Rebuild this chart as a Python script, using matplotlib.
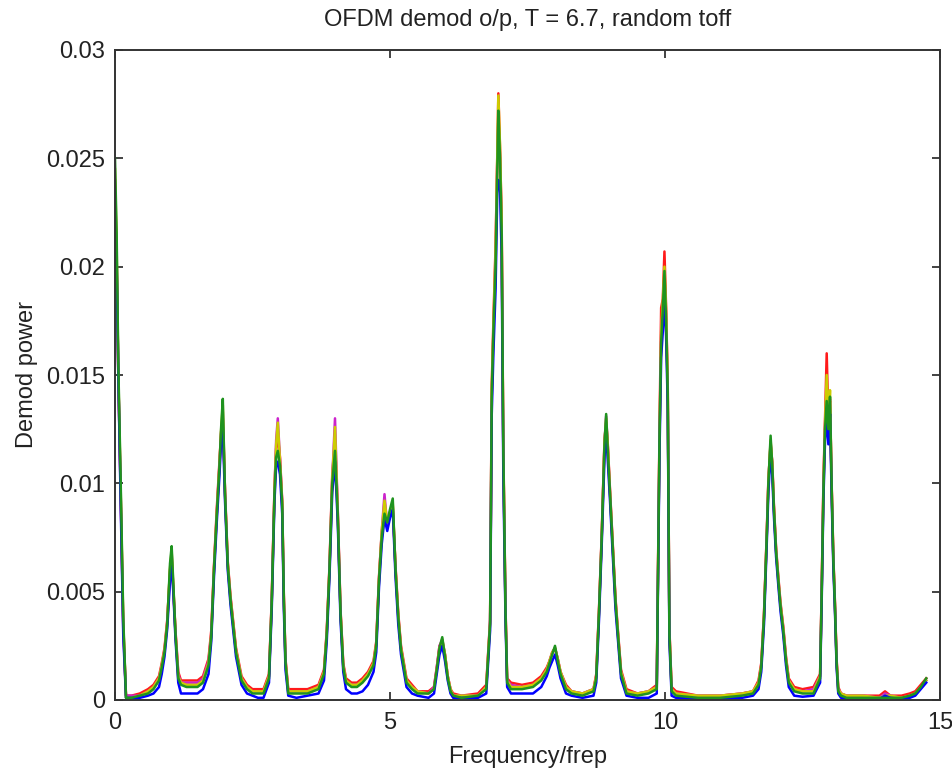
import numpy as np
import matplotlib
matplotlib.use("Agg")
import matplotlib.pyplot as plt
from matplotlib.ticker import FixedLocator, FuncFormatter

plt.rcParams['font.family'] = ['Liberation Sans', 'DejaVu Sans']

# frequency grid (units of frep), shared by all traces
freq = [
    0.00, 0.03, 0.06, 0.10, 0.15, 0.20, 0.30, 0.45, 0.60, 0.70,
    0.80, 0.85, 0.90, 0.95, 1.00, 1.03, 1.06, 1.10, 1.15, 1.20,
    1.30, 1.40, 1.50, 1.60, 1.70, 1.75, 1.80, 1.85, 1.90, 1.93,
    1.96, 2.00, 2.05, 2.10, 2.15, 2.20, 2.30, 2.40, 2.50, 2.60,
    2.70, 2.80, 2.85, 2.90, 2.93, 2.96, 3.00, 3.04, 3.07, 3.10,
    3.15, 3.30, 3.50, 3.70, 3.80, 3.85, 3.90, 3.95, 4.00, 4.05,
    4.10, 4.15, 4.20, 4.30, 4.40, 4.50, 4.60, 4.70, 4.75, 4.80,
    4.85, 4.90, 4.95, 5.00, 5.05, 5.10, 5.15, 5.20, 5.30, 5.40,
    5.50, 5.70, 5.80, 5.85, 5.90, 5.95, 6.00, 6.05, 6.10, 6.15,
    6.30, 6.60, 6.75, 6.82, 6.85, 6.88, 6.92, 6.95, 6.97, 7.00,
    7.03, 7.06, 7.10, 7.13, 7.20, 7.40, 7.60, 7.75, 7.85, 7.90,
    7.95, 8.00, 8.05, 8.10, 8.20, 8.30, 8.50, 8.70, 8.75, 8.80,
    8.85, 8.90, 8.93, 8.96, 9.00, 9.05, 9.10, 9.15, 9.20, 9.30,
    9.50, 9.70, 9.85, 9.90, 9.93, 9.96, 9.99, 10.02, 10.05, 10.08,
    10.12, 10.20, 10.60, 11.00, 11.40, 11.60, 11.70, 11.75, 11.80, 11.85,
    11.88, 11.92, 11.95, 11.98, 12.02, 12.06, 12.10, 12.15, 12.20, 12.25,
    12.35, 12.50, 12.70, 12.82, 12.85, 12.88, 12.91, 12.94, 12.97, 13.00,
    13.03, 13.06, 13.09, 13.12, 13.15, 13.20, 13.30, 13.60, 13.90, 14.00,
    14.10, 14.30, 14.45, 14.55, 14.65, 14.75,
]

# demod power per run, in units of 1e-4
run_blue = [
    206, 200, 150, 95, 30, 1, 1, 1, 2, 3,
    6, 12, 20, 33, 55, 62, 50, 28, 8, 3,
    3, 3, 3, 5, 12, 27, 57, 82, 104, 120,
    126, 92, 60, 44, 32, 20, 7, 3, 2, 1,
    1, 8, 42, 92, 108, 110, 104, 86, 42, 14,
    2, 1, 2, 3, 9, 27, 57, 96, 110, 82,
    37, 13, 5, 3, 3, 4, 7, 13, 22, 52,
    72, 84, 78, 84, 88, 57, 35, 21, 6, 3,
    2, 1, 3, 12, 21, 25, 18, 9, 3, 1,
    1, 1, 3, 32, 132, 160, 190, 234, 240, 236,
    205, 105, 37, 6, 3, 3, 3, 6, 11, 15,
    18, 21, 16, 10, 3, 2, 1, 2, 8, 37,
    72, 112, 124, 110, 92, 67, 42, 26, 10, 2,
    1, 1, 3, 114, 158, 170, 185, 168, 135, 27,
    2, 1, 0.5, 0.5, 1, 2, 5, 13, 35, 72,
    96, 115, 104, 85, 66, 53, 41, 30, 16, 6,
    2, 1.5, 2, 8, 47, 92, 120, 130, 118, 132,
    94, 62, 41, 15, 3, 1, 0.5, 0.5, 0.5, 2,
    1, 0.5, 1, 2, 5, 8,
]
run_red = [
    240, 205, 150, 100, 35, 2, 2, 3, 5, 7,
    11, 17, 24, 37, 60, 66, 52, 32, 13, 9,
    9, 9, 9, 11, 19, 32, 62, 88, 110, 124,
    130, 97, 64, 48, 36, 24, 11, 7, 5, 5,
    5, 12, 47, 98, 116, 122, 112, 92, 48, 19,
    5, 5, 5, 7, 14, 32, 62, 104, 120, 88,
    42, 17, 10, 8, 8, 10, 13, 18, 27, 57,
    77, 88, 80, 86, 90, 62, 40, 25, 10, 7,
    4, 4, 6, 15, 25, 27, 21, 11, 5, 3,
    2, 3, 7, 37, 145, 175, 210, 250, 280, 255,
    222, 118, 43, 10, 8, 7, 8, 11, 15, 18,
    22, 24, 19, 13, 7, 4, 3, 5, 12, 42,
    77, 120, 128, 118, 97, 72, 47, 30, 14, 5,
    3, 4, 7, 125, 181, 185, 207, 181, 145, 33,
    6, 4, 2, 2, 3, 4, 9, 17, 40, 77,
    102, 118, 110, 90, 70, 57, 45, 34, 20, 10,
    6, 5, 6, 12, 53, 100, 130, 160, 130, 138,
    100, 67, 45, 19, 6, 3, 2, 2, 2, 4,
    2, 2, 3, 4, 7, 10,
]
run_magenta = [
    230, 205, 150, 100, 33, 2, 2, 2, 4, 6,
    10, 16, 23, 36, 58, 68, 51, 31, 12, 8,
    8, 8, 8, 10, 18, 30, 61, 86, 109, 123,
    133, 96, 63, 47, 35, 23, 10, 6, 4, 4,
    4, 11, 46, 97, 120, 130, 110, 91, 47, 18,
    4, 4, 4, 6, 13, 31, 61, 102, 130, 87,
    41, 16, 9, 7, 7, 9, 12, 17, 26, 56,
    78, 95, 80, 85, 89, 61, 39, 24, 9, 6,
    4, 3, 6, 15, 25, 28, 21, 11, 5, 2,
    2, 2, 6, 36, 141, 170, 205, 248, 268, 252,
    218, 114, 42, 9, 7, 6, 7, 10, 14, 18,
    22, 24, 19, 13, 6, 4, 3, 5, 11, 41,
    76, 119, 131, 117, 96, 71, 46, 29, 13, 4,
    3, 4, 6, 122, 168, 182, 195, 178, 143, 32,
    5, 3, 2, 2, 3, 4, 8, 16, 39, 76,
    101, 119, 109, 89, 69, 56, 44, 33, 19, 9,
    5, 4, 5, 11, 52, 98, 127, 145, 128, 139,
    99, 66, 44, 18, 5, 3, 2, 2, 1, 3,
    2, 1, 2, 3, 6, 9,
]
run_yellow = [
    245, 210, 152, 102, 36, 1, 1, 2, 4, 6,
    10, 16, 23, 36, 61, 69, 53, 31, 11, 8,
    7, 7, 7, 9, 17, 30, 61, 86, 109, 125,
    136, 96, 63, 47, 35, 23, 10, 6, 4, 4,
    4, 11, 46, 97, 118, 128, 110, 91, 47, 18,
    4, 4, 4, 6, 13, 31, 61, 102, 126, 86,
    41, 16, 9, 7, 7, 9, 12, 17, 26, 56,
    78, 92, 82, 87, 91, 61, 39, 24, 9, 6,
    4, 3, 5, 14, 24, 28, 21, 11, 5, 2,
    2, 2, 6, 36, 143, 172, 208, 252, 279, 256,
    220, 116, 42, 9, 6, 6, 7, 10, 14, 18,
    22, 24, 19, 13, 6, 4, 3, 5, 11, 41,
    76, 119, 130, 117, 96, 71, 46, 29, 13, 4,
    3, 4, 6, 122, 170, 184, 200, 180, 144, 32,
    5, 3, 2, 2, 3, 4, 8, 16, 39, 76,
    101, 120, 109, 89, 69, 56, 44, 33, 19, 9,
    5, 4, 4, 11, 52, 98, 128, 150, 126, 143,
    99, 66, 44, 18, 5, 3, 2, 2, 1, 2,
    2, 1, 2, 3, 6, 9,
]
run_green = [
    250, 215, 155, 105, 38, 1, 1, 2, 3, 5,
    9, 15, 22, 35, 63, 71, 54, 30, 10, 7,
    6, 6, 6, 8, 16, 29, 60, 85, 108, 126,
    139, 95, 62, 46, 34, 22, 9, 5, 3, 3,
    3, 10, 45, 95, 112, 115, 108, 90, 46, 17,
    3, 3, 3, 5, 12, 30, 60, 100, 115, 85,
    40, 15, 8, 6, 6, 8, 11, 16, 25, 55,
    75, 86, 82, 88, 93, 60, 38, 23, 8, 5,
    3, 3, 5, 14, 24, 29, 20, 10, 4, 2,
    1, 2, 5, 35, 140, 170, 200, 245, 272, 250,
    215, 115, 40, 8, 5, 5, 6, 9, 13, 17,
    21, 25, 18, 12, 5, 3, 2, 4, 10, 40,
    75, 118, 132, 115, 95, 70, 45, 28, 12, 3,
    2, 3, 5, 120, 165, 180, 198, 175, 140, 30,
    4, 2, 1, 1, 2, 3, 7, 15, 38, 75,
    100, 122, 108, 88, 68, 55, 43, 32, 18, 8,
    4, 3, 3, 10, 50, 95, 125, 138, 125, 140,
    98, 65, 43, 17, 4, 2, 1, 1, 1, 1,
    1, 1, 2, 3, 6, 10,
]

runs = [
    (run_red, '#ff1a1a'),
    (run_magenta, '#cc22cc'),
    (run_yellow, '#cccc00'),
    (run_blue, '#0000ff'),
    (run_green, '#1f931f'),
]

x_ticks = [0, 5, 10, 15]
y_ticks = [0, 0.005, 0.01, 0.015, 0.02, 0.025, 0.03]

W, H = 953, 771
fig = plt.figure(figsize=(W / 100, H / 100), dpi=100)
ax = fig.add_axes([115 / W, 71 / H, 825 / W, 650 / H])

f = np.array(freq)
for vals, col in runs:
    ax.plot(f, np.array(vals) * 1e-4, color=col, lw=1.8)

ax.set_xlim(0, 15)
ax.set_ylim(0, 0.03)
ax.xaxis.set_major_locator(FixedLocator(x_ticks))
ax.yaxis.set_major_locator(FixedLocator(y_ticks))
ax.yaxis.set_major_formatter(FuncFormatter(lambda v, p: f"{v:g}"))
ax.tick_params(direction='in', length=6, width=1.2, top=True, right=True,
               labelsize=17, colors='#222222')
ax.tick_params(axis='x', pad=8.5)
ax.tick_params(axis='y', pad=7)
for s in ax.spines.values():
    s.set_linewidth(1.4)
    s.set_color('#333333')

ax.set_title("OFDM demod o/p, T = 6.7, random toff", fontsize=17, color='#222222', pad=17)
ax.set_xlabel("Frequency/frep", fontsize=17, color='#222222', labelpad=9)
ax.set_ylabel("Demod power", fontsize=17, color='#222222', labelpad=6)

fig.savefig("out.png", dpi=100)
